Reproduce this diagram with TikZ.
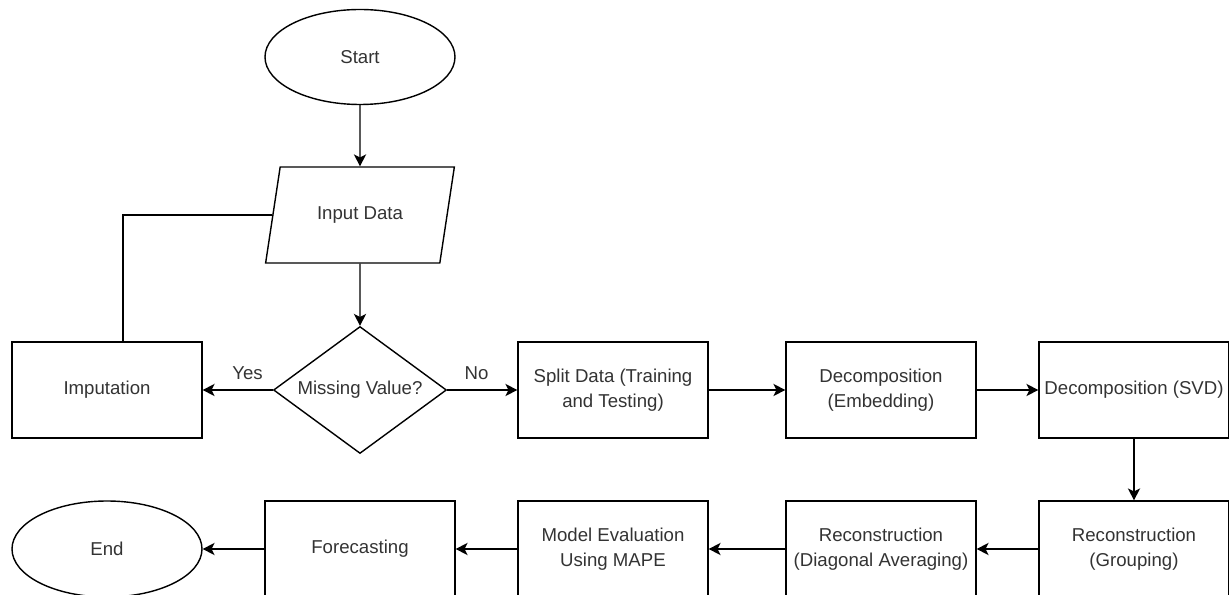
\documentclass[tikz,border=0pt]{standalone}
\usepackage{fontspec}
\setmainfont{Liberation Sans}
\usetikzlibrary{arrows.meta, positioning, shapes.geometric}

\begin{document}
\begin{tikzpicture}[
node distance=5.06cm,
font=\fontsize{10.6}{14}\selectfont,
box/.style={draw, rectangle, align=center, minimum width=3.8cm, minimum height=1.92cm, inner sep=1pt, text=black!80, line width=0.8pt},
term/.style={draw, ellipse, minimum width=3.8cm, minimum height=1.9cm, text=black!80, line width=0.8pt},
io/.style={draw, trapezium, trapezium left angle=72.6, trapezium right angle=107.4, trapezium stretches=true, minimum width=3.78cm, minimum height=1.92cm, text=black!80, line width=0.8pt},
decision/.style={draw, diamond, minimum width=3.46cm, minimum height=2.54cm, aspect=1.36, inner sep=0pt, text=black!80, line width=0.8pt},
arrow/.style={-{Stealth[length=6.8pt, width=7pt, inset=1.8pt]}, line width=0.8pt},
lbl/.style={text=black!80}
]
\useasboundingbox (-7.2,1.14) rectangle (17.38,-10.76);

\node (start) [term] {Start};
\node (input) [io, below of=start, node distance=3.16cm] {Input Data};
\node (missing) [decision, below of=input, node distance=3.5cm] {Missing Value?};
\node (imput) [box, left of=missing] {Imputation};
\node (split) [box, right of=missing] {Split Data (Training\\and Testing)};
\node (embed) [box, right of=split, node distance=5.36cm] {Decomposition\\(Embedding)};
\node (svd) [box, right of=embed] {Decomposition (SVD)};
\node (group) [box, below of=svd, node distance=3.18cm] {Reconstruction\\(Grouping)};
\node (diag) [box, left of=group] {Reconstruction\\(Diagonal Averaging)};
\node (eval) [box, left of=diag, node distance=5.36cm] {Model Evaluation\\Using MAPE};
\node (fore) [box, left of=eval] {Forecasting};
\node (end) [term, left of=fore, minimum height=1.92cm] {End};

\draw[arrow] (start) -- (input);
\draw[arrow] (input) -- (missing);
\draw[arrow] (missing) -- node[lbl, pos=0.36, yshift=0.34cm] {Yes} (imput);
\draw[arrow] (missing) -- node[lbl, pos=0.42, yshift=0.34cm] {No} (split);
\draw[line width=0.8pt] (input.left side) -| ([xshift=0.32cm]imput.north);
\draw[arrow] (split) -- (embed);
\draw[arrow] (embed) -- (svd);
\draw[arrow] (svd) -- (group);
\draw[arrow] (group) -- (diag);
\draw[arrow] (diag) -- (eval);
\draw[arrow] (eval) -- (fore);
\draw[arrow] (fore) -- (end);

\end{tikzpicture}
\end{document}
